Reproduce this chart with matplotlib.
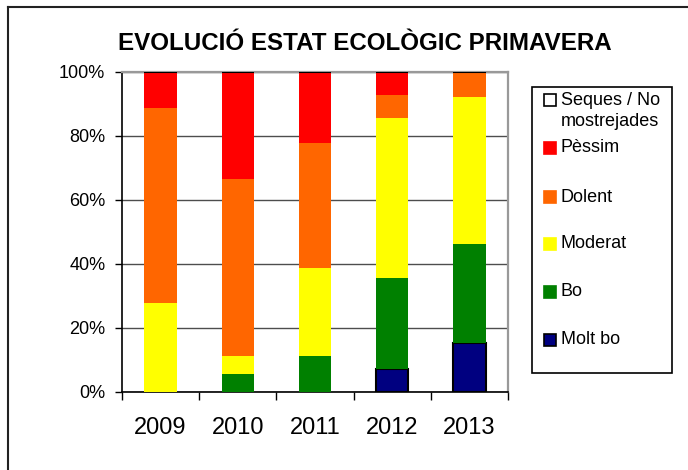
import matplotlib
matplotlib.use('Agg')
import matplotlib.pyplot as plt
from matplotlib.patches import Rectangle
from matplotlib.lines import Line2D
import numpy as np

plt.rcParams['font.family'] = ['Liberation Sans', 'DejaVu Sans']

# data (percent of sites per year)
years = ['2009', '2010', '2011', '2012', '2013']
molt_bo  = [0.0, 0.0, 0.0, 7.1, 15.4]
bo       = [0.0, 5.6, 11.1, 28.6, 30.8]
moderat  = [27.8, 5.6, 27.8, 50.0, 46.1]
dolent   = [61.1, 55.5, 38.9, 7.1, 7.7]
pessim   = [11.1, 33.3, 22.2, 7.2, 0.0]
seques   = [0.0, 0.0, 0.0, 0.0, 0.0]

series = ['Molt bo', 'Bo', 'Moderat', 'Dolent', 'Pèssim', 'Seques / No\nmostrejades']
values = [molt_bo, bo, moderat, dolent, pessim, seques]
colors = ['#000080', '#008000', '#FFFF00', '#FF6600', '#FF0000', '#FFFFFF']
edges = ['black', 'none', 'none', 'none', 'none', 'black']

W, H = 688, 470
fig = plt.figure(figsize=(W / 100, H / 100), dpi=100)
ax = fig.add_axes([122 / W, 1 - 392 / H, (508 - 122) / W, (392 - 72) / H])

x = np.arange(len(years))
bottom = np.zeros(len(years))
for name, v, c, e in zip(series, values, colors, edges):
    v = np.array(v)
    ax.bar(x, v, width=0.42, bottom=bottom, color=c, edgecolor=e,
           linewidth=1.5 if e != 'none' else 0, zorder=3)
    bottom += v

ax.set_xlim(-0.5, len(years) - 0.5)
ax.set_ylim(0, 100)
ax.set_yticks(np.arange(0, 101, 20))
ax.set_yticklabels(['%d%%' % t for t in range(0, 101, 20)], fontsize=13)
ax.yaxis.grid(True, color='#4d4d4d', linewidth=1, zorder=0)

# category boundaries as major ticks, year labels on minor ticks
ax.set_xticks(np.arange(-0.5, len(years), 1.0))
ax.set_xticklabels([])
ax.set_xticks(x, minor=True)
ax.set_xticklabels(years, minor=True, fontsize=17)
ax.tick_params(axis='x', which='major', length=6, width=1, color='black', direction='out')
ax.tick_params(axis='x', which='minor', length=0, pad=18)
ax.tick_params(axis='y', length=5, width=1, direction='out', pad=7)

ax.spines['left'].set_color('black')
ax.spines['bottom'].set_color('black')
ax.spines['top'].set_color('#999999')
ax.spines['right'].set_color('#999999')
for s in ax.spines.values():
    s.set_linewidth(1.2)
ax.spines['top'].set_linewidth(1.6)
ax.spines['right'].set_linewidth(1.6)

fig.text(365 / W, 1 - 44 / H, 'EVOLUCIÓ ESTAT ECOLÒGIC PRIMAVERA',
         ha='center', va='center', fontsize=17.4, fontweight='bold')

# legend box drawn by hand (spacing of the reference is uneven)
fig.patches.append(Rectangle((532 / W, 1 - 373 / H), (672 - 532) / W, (373 - 87) / H,
                             transform=fig.transFigure, facecolor='white',
                             edgecolor='black', linewidth=1.2))
leg_y = [340, 292, 244, 197, 148, 111]
for name, c, e, yy in zip(series, colors, edges, leg_y):
    sq_y = yy - 11 if '\n' in name else yy
    fig.patches.append(Rectangle((544 / W, 1 - (sq_y + 6) / H), 12 / W, 12 / H,
                                 transform=fig.transFigure, facecolor=c,
                                 edgecolor='black' if e != 'none' else c, linewidth=1.2))
    fig.text(561 / W, 1 - yy / H, name, ha='left', va='center', fontsize=13,
             linespacing=1.35)

# outer chart frame
fig.add_artist(Line2D([8 / W, 1], [1 - 7 / H, 1 - 7 / H], color='#222222', linewidth=1.5))
fig.add_artist(Line2D([8 / W, 8 / W], [0, 1 - 7 / H], color='#222222', linewidth=1.5))

fig.savefig('out.png', dpi=100)
